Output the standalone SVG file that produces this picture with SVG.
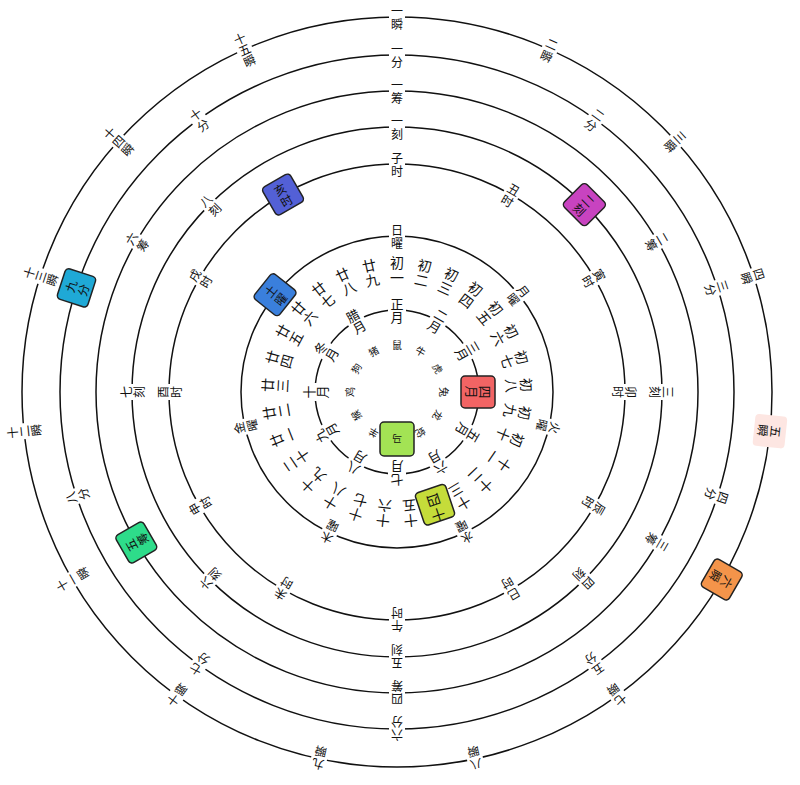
<svg xmlns="http://www.w3.org/2000/svg" width="800" height="785" viewBox="0 0 800 785">
<style>
.c{fill:none;stroke:#111;stroke-width:1.5}
text{font-family:"Noto Sans CJK SC","Noto Sans CJK JP",sans-serif;text-anchor:middle;fill:#111}
.t{font-size:12px}
.d{font-size:14px}
.m{font-size:13px}
.z{font-size:10px}
.bg{fill:#fff}
.bx{stroke:#222;stroke-width:1.5}
</style>
<rect width="800" height="785" fill="#fff"/>
<g id="rings">
<circle class="c" cx="397" cy="392" r="375"/>
<circle class="c" cx="397" cy="392" r="337"/>
<circle class="c" cx="397" cy="392" r="301"/>
<circle class="c" cx="397" cy="392" r="265"/>
<circle class="c" cx="397" cy="392" r="228"/>
<circle class="c" cx="397" cy="392" r="156"/>
<circle class="c" cx="397" cy="392" r="82"/>
</g>
<g id="shun">
<g transform="rotate(0 397 392)"><rect class="bg" x="389" y="3" width="16" height="28"/><text class="t" x="397" y="16">一<tspan x="397" dy="13">瞬</tspan></text></g>
<g transform="rotate(24 397 392)"><rect class="bg" x="389" y="3" width="16" height="28"/><text class="t" x="397" y="16">二<tspan x="397" dy="13">瞬</tspan></text></g>
<g transform="rotate(48 397 392)"><rect class="bg" x="389" y="3" width="16" height="28"/><text class="t" x="397" y="16">三<tspan x="397" dy="13">瞬</tspan></text></g>
<g transform="rotate(72 397 392)"><rect class="bg" x="389" y="3" width="16" height="28"/><text class="t" x="397" y="16">四<tspan x="397" dy="13">瞬</tspan></text></g>
<g transform="rotate(96 397 392)"><rect fill="#fde6e2" x="381" y="1" width="32" height="32" rx="4"/><text class="t" x="397" y="16">五<tspan x="397" dy="13">瞬</tspan></text></g>
<g transform="rotate(120 397 392)"><rect class="bx" fill="#f4944a" x="381" y="1" width="32" height="32" rx="4"/><text class="t" x="397" y="16">六<tspan x="397" dy="13">瞬</tspan></text></g>
<g transform="rotate(144 397 392)"><rect class="bg" x="389" y="3" width="16" height="28"/><text class="t" x="397" y="16">七<tspan x="397" dy="13">瞬</tspan></text></g>
<g transform="rotate(168 397 392)"><rect class="bg" x="389" y="3" width="16" height="28"/><text class="t" x="397" y="16">八<tspan x="397" dy="13">瞬</tspan></text></g>
<g transform="rotate(192 397 392)"><rect class="bg" x="389" y="3" width="16" height="28"/><text class="t" x="397" y="16">九<tspan x="397" dy="13">瞬</tspan></text></g>
<g transform="rotate(216 397 392)"><rect class="bg" x="389" y="3" width="16" height="28"/><text class="t" x="397" y="16">十<tspan x="397" dy="13">瞬</tspan></text></g>
<g transform="rotate(240 397 392)"><rect class="bg" x="389" y="-3" width="16" height="40"/><text class="t" x="397" y="10">十<tspan x="397" dy="12">一</tspan><tspan x="397" dy="12">瞬</tspan></text></g>
<g transform="rotate(264 397 392)"><rect class="bg" x="389" y="-3" width="16" height="40"/><text class="t" x="397" y="10">十<tspan x="397" dy="12">二</tspan><tspan x="397" dy="12">瞬</tspan></text></g>
<g transform="rotate(288 397 392)"><rect class="bg" x="389" y="-3" width="16" height="40"/><text class="t" x="397" y="10">十<tspan x="397" dy="12">三</tspan><tspan x="397" dy="12">瞬</tspan></text></g>
<g transform="rotate(312 397 392)"><rect class="bg" x="389" y="-3" width="16" height="40"/><text class="t" x="397" y="10">十<tspan x="397" dy="12">四</tspan><tspan x="397" dy="12">瞬</tspan></text></g>
<g transform="rotate(336 397 392)"><rect class="bg" x="389" y="-3" width="16" height="40"/><text class="t" x="397" y="10">十<tspan x="397" dy="12">五</tspan><tspan x="397" dy="12">瞬</tspan></text></g>
</g>
<g id="fen">
<g transform="rotate(0 397 392)"><rect class="bg" x="389" y="41" width="16" height="28"/><text class="t" x="397" y="54">一<tspan x="397" dy="13">分</tspan></text></g>
<g transform="rotate(36 397 392)"><rect class="bg" x="389" y="41" width="16" height="28"/><text class="t" x="397" y="54">二<tspan x="397" dy="13">分</tspan></text></g>
<g transform="rotate(72 397 392)"><rect class="bg" x="389" y="41" width="16" height="28"/><text class="t" x="397" y="54">三<tspan x="397" dy="13">分</tspan></text></g>
<g transform="rotate(108 397 392)"><rect class="bg" x="389" y="41" width="16" height="28"/><text class="t" x="397" y="54">四<tspan x="397" dy="13">分</tspan></text></g>
<g transform="rotate(144 397 392)"><rect class="bg" x="389" y="41" width="16" height="28"/><text class="t" x="397" y="54">五<tspan x="397" dy="13">分</tspan></text></g>
<g transform="rotate(180 397 392)"><rect class="bg" x="389" y="41" width="16" height="28"/><text class="t" x="397" y="54">六<tspan x="397" dy="13">分</tspan></text></g>
<g transform="rotate(216 397 392)"><rect class="bg" x="389" y="41" width="16" height="28"/><text class="t" x="397" y="54">七<tspan x="397" dy="13">分</tspan></text></g>
<g transform="rotate(252 397 392)"><rect class="bg" x="389" y="41" width="16" height="28"/><text class="t" x="397" y="54">八<tspan x="397" dy="13">分</tspan></text></g>
<g transform="rotate(288 397 392)"><rect class="bx" fill="#1fa9d6" x="381" y="39" width="32" height="32" rx="4"/><text class="t" x="397" y="54">九<tspan x="397" dy="13">分</tspan></text></g>
<g transform="rotate(324 397 392)"><rect class="bg" x="389" y="41" width="16" height="28"/><text class="t" x="397" y="54">十<tspan x="397" dy="13">分</tspan></text></g>
</g>
<g id="chou">
<g transform="rotate(0 397 392)"><rect class="bg" x="389" y="77" width="16" height="28"/><text class="t" x="397" y="90">一<tspan x="397" dy="13">筹</tspan></text></g>
<g transform="rotate(60 397 392)"><rect class="bg" x="389" y="77" width="16" height="28"/><text class="t" x="397" y="90">二<tspan x="397" dy="13">筹</tspan></text></g>
<g transform="rotate(120 397 392)"><rect class="bg" x="389" y="77" width="16" height="28"/><text class="t" x="397" y="90">三<tspan x="397" dy="13">筹</tspan></text></g>
<g transform="rotate(180 397 392)"><rect class="bg" x="389" y="77" width="16" height="28"/><text class="t" x="397" y="90">四<tspan x="397" dy="13">筹</tspan></text></g>
<g transform="rotate(240 397 392)"><rect class="bx" fill="#2edc8a" x="381" y="75" width="32" height="32" rx="4"/><text class="t" x="397" y="90">五<tspan x="397" dy="13">筹</tspan></text></g>
<g transform="rotate(300 397 392)"><rect class="bg" x="389" y="77" width="16" height="28"/><text class="t" x="397" y="90">六<tspan x="397" dy="13">筹</tspan></text></g>
</g>
<g id="ke">
<g transform="rotate(0 397 392)"><rect class="bg" x="389" y="113" width="16" height="28"/><text class="t" x="397" y="126">一<tspan x="397" dy="13">刻</tspan></text></g>
<g transform="rotate(45 397 392)"><rect class="bx" fill="#c843c0" x="381" y="111" width="32" height="32" rx="4"/><text class="t" x="397" y="126">二<tspan x="397" dy="13">刻</tspan></text></g>
<g transform="rotate(90 397 392)"><rect class="bg" x="389" y="113" width="16" height="28"/><text class="t" x="397" y="126">三<tspan x="397" dy="13">刻</tspan></text></g>
<g transform="rotate(135 397 392)"><rect class="bg" x="389" y="113" width="16" height="28"/><text class="t" x="397" y="126">四<tspan x="397" dy="13">刻</tspan></text></g>
<g transform="rotate(180 397 392)"><rect class="bg" x="389" y="113" width="16" height="28"/><text class="t" x="397" y="126">五<tspan x="397" dy="13">刻</tspan></text></g>
<g transform="rotate(225 397 392)"><rect class="bg" x="389" y="113" width="16" height="28"/><text class="t" x="397" y="126">六<tspan x="397" dy="13">刻</tspan></text></g>
<g transform="rotate(270 397 392)"><rect class="bg" x="389" y="113" width="16" height="28"/><text class="t" x="397" y="126">七<tspan x="397" dy="13">刻</tspan></text></g>
<g transform="rotate(315 397 392)"><rect class="bg" x="389" y="113" width="16" height="28"/><text class="t" x="397" y="126">八<tspan x="397" dy="13">刻</tspan></text></g>
</g>
<g id="shi">
<g transform="rotate(0 397 392)"><rect class="bg" x="389" y="150" width="16" height="28"/><text class="t" x="397" y="163">子<tspan x="397" dy="13">时</tspan></text></g>
<g transform="rotate(30 397 392)"><rect class="bg" x="389" y="150" width="16" height="28"/><text class="t" x="397" y="163">丑<tspan x="397" dy="13">时</tspan></text></g>
<g transform="rotate(60 397 392)"><rect class="bg" x="389" y="150" width="16" height="28"/><text class="t" x="397" y="163">寅<tspan x="397" dy="13">时</tspan></text></g>
<g transform="rotate(90 397 392)"><rect class="bg" x="389" y="150" width="16" height="28"/><text class="t" x="397" y="163">卯<tspan x="397" dy="13">时</tspan></text></g>
<g transform="rotate(120 397 392)"><rect class="bg" x="389" y="150" width="16" height="28"/><text class="t" x="397" y="163">辰<tspan x="397" dy="13">时</tspan></text></g>
<g transform="rotate(150 397 392)"><rect class="bg" x="389" y="150" width="16" height="28"/><text class="t" x="397" y="163">巳<tspan x="397" dy="13">时</tspan></text></g>
<g transform="rotate(180 397 392)"><rect class="bg" x="389" y="150" width="16" height="28"/><text class="t" x="397" y="163">午<tspan x="397" dy="13">时</tspan></text></g>
<g transform="rotate(210 397 392)"><rect class="bg" x="389" y="150" width="16" height="28"/><text class="t" x="397" y="163">未<tspan x="397" dy="13">时</tspan></text></g>
<g transform="rotate(240 397 392)"><rect class="bg" x="389" y="150" width="16" height="28"/><text class="t" x="397" y="163">申<tspan x="397" dy="13">时</tspan></text></g>
<g transform="rotate(270 397 392)"><rect class="bg" x="389" y="150" width="16" height="28"/><text class="t" x="397" y="163">酉<tspan x="397" dy="13">时</tspan></text></g>
<g transform="rotate(300 397 392)"><rect class="bg" x="389" y="150" width="16" height="28"/><text class="t" x="397" y="163">戌<tspan x="397" dy="13">时</tspan></text></g>
<g transform="rotate(330 397 392)"><rect class="bx" fill="#5360d6" x="381" y="148" width="32" height="32" rx="4"/><text class="t" x="397" y="163">亥<tspan x="397" dy="13">时</tspan></text></g>
</g>
<g id="yao">
<g transform="rotate(0 397 392)"><rect class="bg" x="389" y="222" width="16" height="28"/><text class="t" x="397" y="235">日<tspan x="397" dy="13">曜</tspan></text></g>
<g transform="rotate(51.43 397 392)"><rect class="bg" x="389" y="222" width="16" height="28"/><text class="t" x="397" y="235">月<tspan x="397" dy="13">曜</tspan></text></g>
<g transform="rotate(102.86 397 392)"><rect class="bg" x="389" y="222" width="16" height="28"/><text class="t" x="397" y="235">火<tspan x="397" dy="13">曜</tspan></text></g>
<g transform="rotate(154.29 397 392)"><rect class="bg" x="389" y="222" width="16" height="28"/><text class="t" x="397" y="235">水<tspan x="397" dy="13">曜</tspan></text></g>
<g transform="rotate(205.71 397 392)"><rect class="bg" x="389" y="222" width="16" height="28"/><text class="t" x="397" y="235">木<tspan x="397" dy="13">曜</tspan></text></g>
<g transform="rotate(257.14 397 392)"><rect class="bg" x="389" y="222" width="16" height="28"/><text class="t" x="397" y="235">金<tspan x="397" dy="13">曜</tspan></text></g>
<g transform="rotate(308.57 397 392)"><rect class="bx" fill="#3a7fdc" x="381" y="220" width="32" height="32" rx="4"/><text class="t" x="397" y="235">土<tspan x="397" dy="13">曜</tspan></text></g>
</g>
<g id="days">
<g transform="rotate(0 397 392)"><text class="d" x="397" y="268">初<tspan x="397" dy="15">一</tspan></text></g>
<g transform="rotate(12.41 397 392)"><text class="d" x="397" y="268">初<tspan x="397" dy="15">二</tspan></text></g>
<g transform="rotate(24.83 397 392)"><text class="d" x="397" y="268">初<tspan x="397" dy="15">三</tspan></text></g>
<g transform="rotate(37.24 397 392)"><text class="d" x="397" y="268">初<tspan x="397" dy="15">四</tspan></text></g>
<g transform="rotate(49.66 397 392)"><text class="d" x="397" y="268">初<tspan x="397" dy="15">五</tspan></text></g>
<g transform="rotate(62.07 397 392)"><text class="d" x="397" y="268">初<tspan x="397" dy="15">六</tspan></text></g>
<g transform="rotate(74.48 397 392)"><text class="d" x="397" y="268">初<tspan x="397" dy="15">七</tspan></text></g>
<g transform="rotate(86.9 397 392)"><text class="d" x="397" y="268">初<tspan x="397" dy="15">八</tspan></text></g>
<g transform="rotate(99.31 397 392)"><text class="d" x="397" y="268">初<tspan x="397" dy="15">九</tspan></text></g>
<g transform="rotate(111.72 397 392)"><text class="d" x="397" y="268">初<tspan x="397" dy="15">十</tspan></text></g>
<g transform="rotate(124.14 397 392)"><text class="d" x="397" y="268">十<tspan x="397" dy="15">一</tspan></text></g>
<g transform="rotate(136.55 397 392)"><text class="d" x="397" y="268">十<tspan x="397" dy="15">二</tspan></text></g>
<g transform="rotate(148.97 397 392)"><text class="d" x="397" y="268">十<tspan x="397" dy="15">三</tspan></text></g>
<g transform="rotate(161.38 397 392)"><rect class="bx" fill="#c5dc3a" x="381" y="256" width="32" height="34" rx="4"/><text class="d" x="397" y="268">十<tspan x="397" dy="15">四</tspan></text></g>
<g transform="rotate(173.79 397 392)"><text class="d" x="397" y="268">十<tspan x="397" dy="15">五</tspan></text></g>
<g transform="rotate(186.21 397 392)"><text class="d" x="397" y="268">十<tspan x="397" dy="15">六</tspan></text></g>
<g transform="rotate(198.62 397 392)"><text class="d" x="397" y="268">十<tspan x="397" dy="15">七</tspan></text></g>
<g transform="rotate(211.03 397 392)"><text class="d" x="397" y="268">十<tspan x="397" dy="15">八</tspan></text></g>
<g transform="rotate(223.45 397 392)"><text class="d" x="397" y="268">十<tspan x="397" dy="15">九</tspan></text></g>
<g transform="rotate(235.86 397 392)"><text class="d" x="397" y="268">二<tspan x="397" dy="15">十</tspan></text></g>
<g transform="rotate(248.28 397 392)"><text class="d" x="397" y="268">廿<tspan x="397" dy="15">一</tspan></text></g>
<g transform="rotate(260.69 397 392)"><text class="d" x="397" y="268">廿<tspan x="397" dy="15">二</tspan></text></g>
<g transform="rotate(273.1 397 392)"><text class="d" x="397" y="268">廿<tspan x="397" dy="15">三</tspan></text></g>
<g transform="rotate(285.52 397 392)"><text class="d" x="397" y="268">廿<tspan x="397" dy="15">四</tspan></text></g>
<g transform="rotate(297.93 397 392)"><text class="d" x="397" y="268">廿<tspan x="397" dy="15">五</tspan></text></g>
<g transform="rotate(310.34 397 392)"><text class="d" x="397" y="268">廿<tspan x="397" dy="15">六</tspan></text></g>
<g transform="rotate(322.76 397 392)"><text class="d" x="397" y="268">廿<tspan x="397" dy="15">七</tspan></text></g>
<g transform="rotate(335.17 397 392)"><text class="d" x="397" y="268">廿<tspan x="397" dy="15">八</tspan></text></g>
<g transform="rotate(347.59 397 392)"><text class="d" x="397" y="268">廿<tspan x="397" dy="15">九</tspan></text></g>
</g>
<g id="months">
<g transform="rotate(0 397 392)"><rect class="bg" x="388" y="296" width="18" height="30"/><text class="m" x="397" y="309">正<tspan x="397" dy="13">月</tspan></text></g>
<g transform="rotate(30 397 392)"><rect class="bg" x="388" y="296" width="18" height="30"/><text class="m" x="397" y="309">二<tspan x="397" dy="13">月</tspan></text></g>
<g transform="rotate(60 397 392)"><rect class="bg" x="388" y="296" width="18" height="30"/><text class="m" x="397" y="309">三<tspan x="397" dy="13">月</tspan></text></g>
<g transform="rotate(90 397 392)"><rect class="bx" fill="#f26464" x="381" y="294" width="32" height="34" rx="4"/><text class="m" x="397" y="309">四<tspan x="397" dy="13">月</tspan></text></g>
<g transform="rotate(120 397 392)"><rect class="bg" x="388" y="296" width="18" height="30"/><text class="m" x="397" y="309">五<tspan x="397" dy="13">月</tspan></text></g>
<g transform="rotate(150 397 392)"><rect class="bg" x="388" y="296" width="18" height="30"/><text class="m" x="397" y="309">六<tspan x="397" dy="13">月</tspan></text></g>
<g transform="rotate(180 397 392)"><rect class="bg" x="388" y="296" width="18" height="30"/><text class="m" x="397" y="309">七<tspan x="397" dy="13">月</tspan></text></g>
<g transform="rotate(210 397 392)"><rect class="bg" x="388" y="296" width="18" height="30"/><text class="m" x="397" y="309">八<tspan x="397" dy="13">月</tspan></text></g>
<g transform="rotate(240 397 392)"><rect class="bg" x="388" y="296" width="18" height="30"/><text class="m" x="397" y="309">九<tspan x="397" dy="13">月</tspan></text></g>
<g transform="rotate(270 397 392)"><rect class="bg" x="388" y="296" width="18" height="30"/><text class="m" x="397" y="309">十<tspan x="397" dy="13">月</tspan></text></g>
<g transform="rotate(300 397 392)"><rect class="bg" x="388" y="296" width="18" height="30"/><text class="m" x="397" y="309">冬<tspan x="397" dy="13">月</tspan></text></g>
<g transform="rotate(330 397 392)"><rect class="bg" x="388" y="296" width="18" height="30"/><text class="m" x="397" y="309">腊<tspan x="397" dy="13">月</tspan></text></g>
</g>
<g id="zodiac">
<g transform="rotate(0 397 392)"><text class="z" x="397" y="349">鼠</text></g>
<g transform="rotate(30 397 392)"><text class="z" x="397" y="349">牛</text></g>
<g transform="rotate(60 397 392)"><text class="z" x="397" y="349">虎</text></g>
<g transform="rotate(90 397 392)"><text class="z" x="397" y="349">兔</text></g>
<g transform="rotate(120 397 392)"><text class="z" x="397" y="349">龙</text></g>
<g transform="rotate(150 397 392)"><text class="z" x="397" y="349">蛇</text></g>
<g transform="rotate(180 397 392)"><rect class="bx" fill="#a3e354" x="380" y="328" width="34" height="34" rx="4"/><text class="z" x="397" y="349">马</text></g>
<g transform="rotate(210 397 392)"><text class="z" x="397" y="349">羊</text></g>
<g transform="rotate(240 397 392)"><text class="z" x="397" y="349">猴</text></g>
<g transform="rotate(270 397 392)"><text class="z" x="397" y="349">鸡</text></g>
<g transform="rotate(300 397 392)"><text class="z" x="397" y="349">狗</text></g>
<g transform="rotate(330 397 392)"><text class="z" x="397" y="349">猪</text></g>
</g>
</svg>
